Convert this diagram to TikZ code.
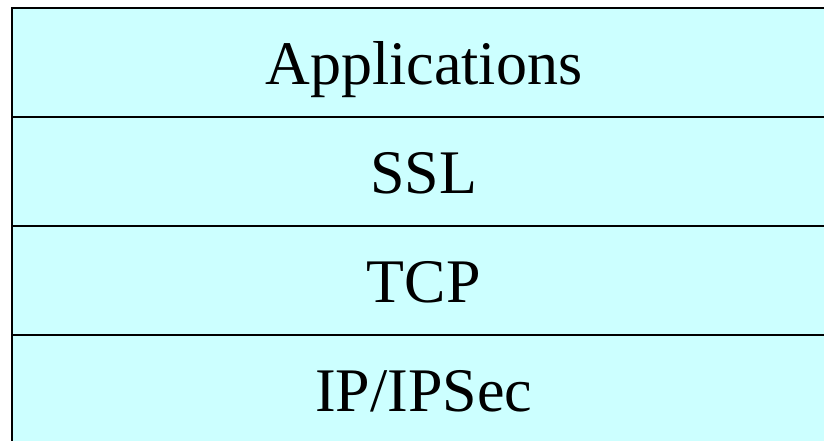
\documentclass[tikz,border=0pt]{standalone}
\usepackage{fontspec}
\setmainfont{Liberation Serif}
\usetikzlibrary{positioning}
\definecolor{layercyan}{HTML}{CCFFFF}
\tikzset{
  layer/.style={draw=black, fill=layercyan, line width=1.4pt,
    minimum width=824pt, minimum height=109pt, inner sep=0pt, outer sep=0pt,
    text height=44pt, text depth=0pt, font=\fontsize{62}{70}\selectfont}
}

\begin{document}
\begin{tikzpicture}[x=1pt,y=1pt]
\useasboundingbox (0,0) rectangle (824,-440);
\clip (0,0) rectangle (824,-440);

% Layers
\node[layer] (app) at (423.75,-62.5) {Applications};
\node[layer, below=0pt of app] (ssl) {SSL};
\node[layer, below=0pt of ssl] (tcp) {TCP};
\node[layer, below=0pt of tcp] (ipsec) {IP/IPSec};

% Outer frame
\draw[line width=2.2pt] (ipsec.south west) -- (app.north west) -- (app.north east);
\end{tikzpicture}
\end{document}
